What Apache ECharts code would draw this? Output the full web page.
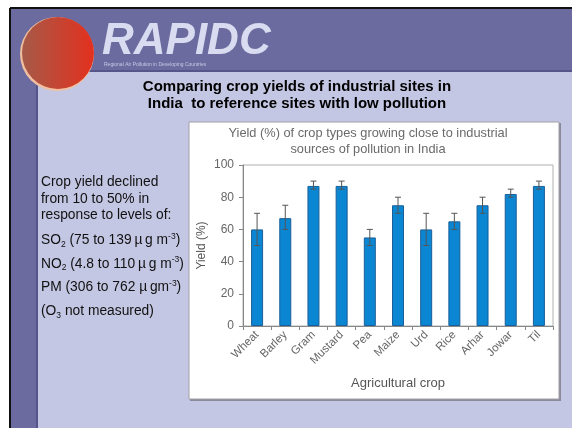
<!DOCTYPE html>
<html>
<head>
<meta charset="utf-8">
<title>Crop yields near industrial sites in India</title>
<script src="https://cdn.jsdelivr.net/npm/echarts@6/dist/echarts.min.js"></script>
<style>
  html, body { margin: 0; padding: 0; background: #fff; }
  #main { width: 572px; height: 428px; }
</style>
</head>
<body>
<div id="main"></div>
<script>
  // crops and yield (%)
  var crops = ['Wheat', 'Barley', 'Gram', 'Mustard', 'Pea', 'Maize', 'Urd', 'Rice', 'Arhar', 'Jowar', 'Til'];
  var yieldPct = [60, 67, 87, 87, 55, 75, 60, 65, 75, 82, 87];
  var errLow = [50, 60, 85, 85, 50, 70, 50, 60, 70, 80, 85];
  var errHigh = [70, 75, 90, 90, 60, 80, 70, 70, 80, 85, 90];
  var yTicks = [0, 20, 40, 60, 80, 100];

  var errData = crops.map(function (c, i) { return [i, errLow[i], errHigh[i]]; });

  var font = 'Liberation Sans, Arial, sans-serif';
  var chart = echarts.init(document.getElementById('main'));

  var subSup = {
    sub: { fontSize: 8.5, lineHeight: 8, verticalAlign: 'bottom' },
    sup: { fontSize: 8.5, lineHeight: 8, verticalAlign: 'top' }
  };

  var option = {
    animation: false,
    backgroundColor: '#fff',
    textStyle: { fontFamily: font },
    graphic: [
      // slide background
      { type: 'rect', z: -20, shape: { x: 10, y: 8, width: 562, height: 420 }, style: { fill: '#6b6b9f' } },
      { type: 'line', z: -20, shape: { x1: 10, y1: 8, x2: 572, y2: 8 }, style: { stroke: '#111', lineWidth: 2 } },
      { type: 'line', z: -20, shape: { x1: 10, y1: 8, x2: 10, y2: 428 }, style: { stroke: '#111', lineWidth: 2 } },
      { type: 'rect', z: -19, shape: { x: 36, y: 70, width: 540, height: 362, r: [16, 0, 0, 0] }, style: { fill: '#55558a' } },
      { type: 'rect', z: -18, shape: { x: 38, y: 72, width: 540, height: 362, r: [15, 0, 0, 0] }, style: { fill: '#c4c7e3' } },
      { type: 'circle', z: -17, shape: { cx: 57, cy: 54, r: 37 }, style: { fill: '#f2c0a0' } },
      { type: 'circle', z: -16, shape: { cx: 58, cy: 53, r: 36 },
        style: { fill: new echarts.graphic.LinearGradient(0, 0, 1, 0, [
          { offset: 0, color: '#a65a48' }, { offset: 1, color: '#e3301e' }]) } },
      { type: 'text', z: -15, x: 102, y: 20,
        style: { text: 'RAPIDC', fontFamily: font, fontSize: 44, fontWeight: 'bold', fontStyle: 'italic', fill: '#d9dbf0' } },
      { type: 'text', z: -15, x: 104, y: 62,
        style: { text: 'Regional Air Pollution in Developing Countries', fontFamily: font, fontSize: 5, fill: '#c8cae6' } },
      { type: 'text', z: -15, x: 297, y: 79,
        style: { text: 'Comparing crop yields of industrial sites in\nIndia  to reference sites with low pollution',
          fontFamily: font, fontSize: 15, fontWeight: 'bold', fill: '#000', align: 'center', lineHeight: 16.5 } },
      // left notes
      { type: 'text', z: -15, x: 41, y: 174,
        style: { text: 'Crop yield declined\nfrom 10 to 50% in\nresponse to levels of:',
          fontFamily: font, fontSize: 13.8, fill: '#111', lineHeight: 16.5 } },
      { type: 'text', z: -15, x: 41, y: 232,
        style: { text: 'SO{sub|2} (75 to 139\u2009µ\u2009g m{sup|-3})', fontFamily: font, fontSize: 13.8, fill: '#111', lineHeight: 17, rich: subSup } },
      { type: 'text', z: -15, x: 41, y: 255.5,
        style: { text: 'NO{sub|2} (4.8 to 110\u2009µ\u2009g m{sup|-3})', fontFamily: font, fontSize: 13.8, fill: '#111', lineHeight: 17, rich: subSup } },
      { type: 'text', z: -15, x: 41, y: 279,
        style: { text: 'PM (306 to 762 µ\u2009gm{sup|-3})', fontFamily: font, fontSize: 13.8, fill: '#111', lineHeight: 17, rich: subSup } },
      { type: 'text', z: -15, x: 41, y: 303,
        style: { text: '(O{sub|3} not measured)', fontFamily: font, fontSize: 13.8, fill: '#111', lineHeight: 17, rich: subSup } },
      // chart picture box
      { type: 'rect', z: -14, shape: { x: 190, y: 123, width: 371, height: 278 }, style: { fill: '#8a8a9a' } },
      { type: 'rect', z: -13, shape: { x: 189, y: 122, width: 370, height: 277 }, style: { fill: '#fff', stroke: '#a0a0a8', lineWidth: 1 } },
      { type: 'text', z: -12, x: 368, y: 125,
        style: { text: 'Yield (%) of crop types growing close to industrial\nsources of pollution in India',
          fontFamily: font, fontSize: 12.8, fill: '#6a6a6a', align: 'center', lineHeight: 16 } }
    ],
    grid: {
      left: 243, top: 165, width: 310, height: 161,
      show: true, borderColor: '#b0b0b0', borderWidth: 1, backgroundColor: 'transparent'
    },
    xAxis: {
      type: 'category',
      data: crops,
      name: 'Agricultural crop',
      nameLocation: 'middle',
      nameGap: 51,
      nameMoveOverlap: false,
      nameTextStyle: { fontSize: 13, color: '#555' },
      axisLine: { lineStyle: { color: '#888' } },
      axisTick: { show: true, length: 4, lineStyle: { color: '#888' } },
      axisLabel: { rotate: 45, fontSize: 11.5, color: '#666', margin: 7, interval: 0 }
    },
    yAxis: {
      type: 'value',
      min: yTicks[0],
      max: yTicks[yTicks.length - 1],
      interval: 20,
      name: 'Yield (%)',
      nameLocation: 'middle',
      nameRotate: 90,
      nameGap: 35,
      nameMoveOverlap: false,
      nameTextStyle: { fontSize: 12, color: '#555' },
      axisLine: { show: true, lineStyle: { color: '#888' } },
      axisTick: { show: true, length: 4, lineStyle: { color: '#888' } },
      axisLabel: { fontSize: 12, color: '#666', margin: 9 },
      splitLine: { show: false }
    },
    series: [
      {
        type: 'bar',
        data: yieldPct,
        barWidth: 12,
        itemStyle: { color: '#0a86d3', borderColor: '#1b5f98', borderWidth: 1 }
      },
      {
        type: 'custom',
        data: errData,
        z: 5,
        renderItem: function (params, api) {
          var lo = api.coord([api.value(0), api.value(1)]);
          var hi = api.coord([api.value(0), api.value(2)]);
          var w = 3;
          var st = { stroke: '#555', lineWidth: 1 };
          return {
            type: 'group',
            children: [
              { type: 'line', shape: { x1: hi[0], y1: hi[1], x2: lo[0], y2: lo[1] }, style: st },
              { type: 'line', shape: { x1: hi[0] - w, y1: hi[1], x2: hi[0] + w, y2: hi[1] }, style: st },
              { type: 'line', shape: { x1: lo[0] - w, y1: lo[1], x2: lo[0] + w, y2: lo[1] }, style: st }
            ]
          };
        }
      }
    ]
  };

  chart.setOption(option);
</script>
</body>
</html>
